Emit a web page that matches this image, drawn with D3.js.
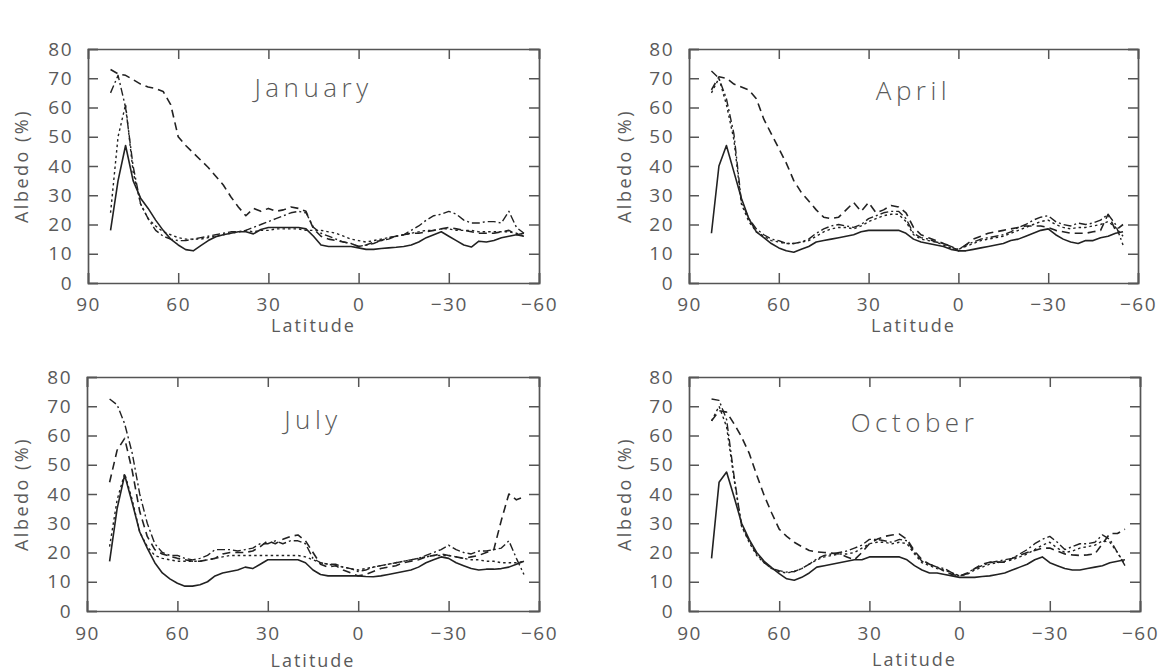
<!DOCTYPE html>
<html><head><meta charset="utf-8">
<script src="https://cdn.jsdelivr.net/npm/d3@7"></script>
<style>
html,body{margin:0;padding:0;background:#fff;}
svg{display:block;}
text{font-family:"Open Sans","DejaVu Sans",sans-serif;font-weight:400;fill:#5a5a5a;}
</style></head>
<body>
<svg id="chart" width="1169" height="671"></svg>
<script>
// ---------- DATA ----------
const lats = [82.5,80,77.5,75,72.5,70,67.5,65, 62.5,60,57.5,55,52.5,50,47.5,45,
  42.5,40,37.5,35,32.5,30,27.5,25, 22.5,20,17.5,15,12.5,10,7.5,5,
  2.5,0,-2.5,-5,-7.5,-10,-12.5,-15, -17.5,-20,-22.5,-25,-27.5,-30,-32.5,-35,
  -37.5,-40,-42.5,-45,-47.5,-50,-52.5,-55];

const months = ["January","April","July","October"];
const yTicks = [0,10,20,30,40,50,60,70,80];
const xTicks = [90,60,30,0,-30,-60];
const xTickLabels = ["90","60","30","0","\u221230","\u221260"];
const xTitle = "Latitude";
const yTitle = "Albedo (%)";

// January
const janSolid = [18,35,47,35,29,25.5,21.5,18, 15,13,11.4,11,12.8,14.5,15.8,16.5,
  17,17.5,17.5,16.8,18.3,19,19,19, 19,19,18.5,16,13,12.5,12.5,12.5,
  12.5,12,11.5,11.5,11.8,12,12.2,12.5, 13,14,15.5,16.5,17.5,16,14.5,13,
  12.3,14.3,14,14.5,15.5,16,16.5,17];
const janDotted = [24,50,61,38,27,22,19.5,17.5, 16.5,15.5,15,15,15,15.5,16,16.5,
  17,17.5,18,17.5,18,18,18.5,18.5, 18.5,18.5,18,18,18,17.5,17,16,
  15,14.5,14,14.5,15,15.5,16,16.5, 17,17.5,18,18,18.5,18.5,18,18,
  18,17.5,17.5,17.5,17.5,17.5,17,16];
const janDashed = [73,71.5,71,69.5,68,67,66.5,65.5, 61,50,47,44.5,42,39.5,36.5,33.5,
  29.5,26,23,25.5,24.5,25.5,24.5,25, 26,25.5,24.5,18.5,16,15,14.5,14,
  13.5,12.5,13,14,14.5,15.5,16,16.5, 17,17,17.5,18,18.5,19,18.5,18,
  17.5,17,17,17,17.5,18,16.5,16];
const janDashDot = [65,71,60,40,27,22,18,16, 15,14.5,14.5,15,15.5,16,16.5,17,
  17.5,17.5,18,19,20,21,22,23, 24,24.5,24,19,17,16,15,14,
  13.5,12.5,13,13.5,14.5,15,16,16.5, 18,19.5,21.5,23,23.5,24.5,23.5,21.5,
  20.5,20.5,21,21,20.5,24.5,19,17];

// April
const aprSolid = [17,40,47,38,29,22,17.5,15.5, 13.5,12,11,10.5,11.5,12.5,14,14.5,
  15,15.5,16,16.5,17.5,18,18,18, 18,18,17,15,14,13.5,13,12.5,
  11.5,11,11,11.5,12,12.5,13,13.5, 14.5,15,16,17,18,18.5,16.5,15,
  14,13.5,14.5,14.5,15.5,16,17,17.5];
const aprDotted = [65,70,61,49,27,21,17.5,16, 14.5,14,13.5,13.5,14,14.5,16,17.5,
  18.5,19,19,18.5,19.5,21,22,23, 23.5,23.5,21,16.5,15,14.5,14,13,
  12,11.5,12.5,13.5,14.5,15,15.5,16, 17,18,19,20,21,21.5,20,19,
  18.5,19,19,19.5,20,21,19,16];
const aprDashed = [66,70.5,70,68,67,66,63,56, 51,46,41,35,31,28,25,22.5,
  22,22.5,25,27.5,24.5,27.5,24,25, 26.5,26,24,19,16.5,15.5,14.5,13.5,
  12.5,11,13,15,16,17,17.5,18, 18.5,19,19.5,19.5,19.5,19,18,17.5,
  17,17,17,17.5,18,23.5,18,20];
const aprDashDot = [72.5,70,63,51,28,22,18.5,16.5, 15,14.5,13.5,13.5,14,15,17,18.5,
  19.5,20,19.5,19,20,22,23,24, 24.5,24.5,22,17,15.5,15,14,13.5,
  12.5,11.5,13,14,15,15.5,16,16.5, 17.5,19,20,21.5,22.5,23,21,20,
  19.5,20.5,20,20.5,21.5,23.5,20,13];

// July
const julSolid = [17,35,46.5,37,27,21.5,16.5,13, 11,9.5,8.5,8.5,9,10,12,13,
  13.5,14,15,14.5,16,17.5,17.5,17.5, 17.5,17.5,16.5,14,12.5,12,12,12,
  12,12,11.8,11.7,12,12.5,13,13.5, 14,15,16.5,17.5,18.5,18,16.5,15.5,
  14.5,14,14.3,14.3,14.5,15,16,17];
const julDotted = [22,38,47,38,27,22,19,18, 17.5,17,17,17,17,17.5,18,18.5,
  19,19,19,19,19,19,19,19, 19,19,18.5,17.5,16.5,16,15.5,15,
  14.5,14,14.5,15,15.5,16,16.5,17, 17.5,18,18.5,19,19,19,18.5,18,
  17.5,17.5,17,17,16.5,16.5,16.5,17];
const julDashed = [44,55,59,48,34,25.5,21,19.5, 18.7,18,17.5,17,17,17.5,18,19.5,
  20,20,20,20.5,22,24,23,24.5, 25.5,26,24,20,16,15,15.5,14,
  13,12,12.5,13.5,14.5,15,15.5,16.5, 17,17.5,18.5,19,19.5,19,18.5,18,
  18.5,19,20,21,31,40,38,39];
const julDashDot = [72.5,70.5,64,54,40,30,23,20, 19,19,18,17.5,18,19,21,21,
  21,20.5,21,21.5,23,23,24,23, 24,24,23,18,16.5,16,16,15,
  14.5,13.5,14,15,15.5,16,16.5,17, 17.5,18,19,20,21,22.5,21,20,
  19.5,20.5,20.5,21,21.5,24,18,12.5];

// October
const octSolid = [18,44,47.5,39,30,24.5,20,17, 14.8,12.8,11,10.5,11.5,13,15,15.5,
  16,16.5,17,17.5,17.5,18.5,18.5,18.5, 18.5,18.5,17.5,15.5,14,13,13,12.5,
  12,11.5,11.5,11.5,11.8,12,12.5,13, 14,15,16,17.5,18.5,16.5,15.5,14.5,
  14,14,14.5,15,15.5,16.5,17,17.5];
const octDotted = [65,70,63,45,29,23.5,19,16.5, 14.5,13.5,13,13.5,14.5,16,17.5,18.5,
  19,19.5,19.5,20,21.5,23,23.5,23.5, 23,23.5,23,19.5,16.5,15.5,14.5,14,
  13,12,12.5,14,15,16,16.5,17, 17.5,18.5,19.5,21,22.5,23.5,21.5,20,
  20.5,21.5,22,22.5,24,23.5,20,16];
const octDashed = [65,68.5,68,64,59.5,54,46.5,39.5, 33.5,28,25.5,23.5,22,20.7,20.2,20,
  19.8,19.5,18.5,17.5,20,23,24.5,25.5, 26,26.3,24.5,20.5,17.5,16,15,13.5,
  12.5,12,12.7,14.5,16,16.7,16.7,16.7, 18,19,20,20.7,21.5,21.5,20.5,19.5,
  19.2,19,19.2,19.5,23,26.5,26.5,28];
const octDashDot = [72.5,72,65.5,46,29,24,19.5,16.5, 14.5,13.8,13.3,13.5,14.5,16,17.8,19,
  19.5,20,20.5,21.5,22.5,24.5,24.5,24, 23.5,24.5,24,20,17,16,15,14.5,
  13,12,13,14.5,15.5,16.5,17,17.5, 18,19.5,21,23,24.5,25.5,23.5,21,
  22,23,23,23.5,26,24.5,20,15.5];

const panelSeries = [
  [janDotted, janDashDot, janDashed, janSolid],
  [aprDotted, aprDashDot, aprDashed, aprSolid],
  [julDotted, julDashDot, julDashed, julSolid],
  [octDotted, octDashDot, octDashed, octSolid]
];
const seriesNames = ["dotted","dashdot","dashed","solid"];

// ---------- LAYOUT / STYLE ----------
const panels = [
  {l:88,  t:49,  r:539,  b:283, tickLabPad:15, latY:332, titleDy:48, ylabX:22},
  {l:689, t:49,  r:1138, b:283, tickLabPad:15, latY:332, titleDy:51, ylabX:625},
  {l:87,  t:377, r:539,  b:611, tickLabPad:16, latY:667, titleDy:52, ylabX:22},
  {l:689, t:377, r:1140, b:611, tickLabPad:16, latY:666, titleDy:55, ylabX:625}
];
const dash = {dotted:"2.5,3", dashdot:"8,3,2,3", dashed:"8,5", solid:null};
const lineW = {dotted:1.4, dashdot:1.4, dashed:1.6, solid:1.6};

const svg = d3.select("#chart");

panels.forEach((p, i) => {
  const w = p.r - p.l, h = p.b - p.t;
  const x = d3.scaleLinear().domain([90, -60]).range([0, w]);
  const y = d3.scaleLinear().domain([0, 80]).range([h, 0]);
  const g = svg.append("g").attr("transform", `translate(${p.l},${p.t})`);

  const fmtX = d => xTickLabels[xTicks.indexOf(d)];

  const axB = g.append("g").attr("transform", `translate(0,${h})`)
    .call(d3.axisBottom(x).tickValues(xTicks).tickFormat(fmtX).tickSize(-10).tickPadding(p.tickLabPad));
  const axT = g.append("g")
    .call(d3.axisTop(x).tickValues(xTicks).tickFormat("").tickSize(-10));
  const axL = g.append("g")
    .call(d3.axisLeft(y).tickValues(yTicks).tickSize(-10).tickPadding(15));
  const axR = g.append("g").attr("transform", `translate(${w},0)`)
    .call(d3.axisRight(y).tickValues(yTicks).tickFormat("").tickSize(-10));

  [axB, axT, axL, axR].forEach(a => {
    a.select(".domain").attr("stroke", "#555").attr("stroke-width", 1.7);
    a.selectAll(".tick line").attr("stroke", "#555").attr("stroke-width", 1.5);
    a.selectAll(".tick text").attr("fill", "#5a5a5a")
      .style("font-family", "'Open Sans','DejaVu Sans',sans-serif")
      .style("font-weight", 400).style("font-size", "19px").style("letter-spacing", "1.5px");
  });

  const line = d3.line().x((d, k) => x(lats[k])).y(d => y(d));
  panelSeries[i].forEach((vals, si) => {
    const nm = seriesNames[si];
    g.append("path").datum(vals)
      .attr("d", line)
      .attr("fill", "none")
      .attr("stroke", "#222")
      .attr("stroke-width", lineW[nm])
      .attr("stroke-linejoin", "round")
      .attr("stroke-dasharray", dash[nm]);
  });

  g.append("text").attr("x", w / 2).attr("y", p.titleDy)
    .attr("text-anchor", "middle")
    .style("font-size", "26px").style("font-weight", 300).style("letter-spacing", "4.5px")
    .text(months[i]);

  svg.append("text").attr("x", p.l + w / 2).attr("y", p.latY)
    .attr("text-anchor", "middle")
    .style("font-size", "18px").style("letter-spacing", "2px")
    .text(xTitle);

  svg.append("text")
    .attr("transform", `translate(${p.ylabX + 6},${p.t + h / 2}) rotate(-90)`)
    .attr("text-anchor", "middle")
    .style("font-size", "18px").style("letter-spacing", "2.5px")
    .text(yTitle);
});
</script>
</body></html>
